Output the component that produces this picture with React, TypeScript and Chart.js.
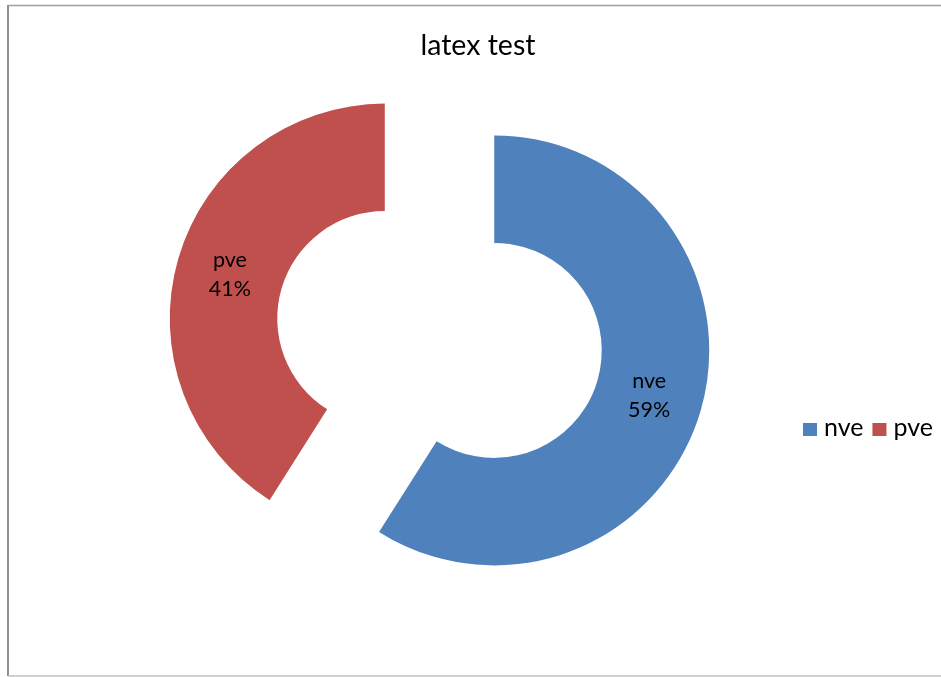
import React, { useEffect, useRef } from 'react';
import { Chart, registerables } from 'chart.js';

Chart.register(...registerables);

const categories = ['nve', 'pve'];
const values = [59, 41];
const colors = ['#4F81BD', '#C0504D'];
const chartTitle = 'latex test';
const explodeDistance = 57;

const FONT = 'Lato, "Open Sans", sans-serif';

const explodePlugin = {
  id: 'explode',
  afterDatasetsUpdate(chart: any) {
    const meta = chart.getDatasetMeta(0);
    meta.data.forEach((arc: any) => {
      const mid = (arc.startAngle + arc.endAngle) / 2;
      arc.x = arc.x + Math.cos(mid) * explodeDistance;
      arc.y = arc.y + Math.sin(mid) * explodeDistance;
    });
  },
};

const overlayPlugin = {
  id: 'overlay',
  afterDraw(chart: any) {
    const ctx = chart.ctx as CanvasRenderingContext2D;
    ctx.save();
    // frame
    ctx.strokeStyle = '#8f8f8f';
    ctx.lineWidth = 2;
    ctx.beginPath();
    ctx.moveTo(8, 5);
    ctx.lineTo(8, 676);
    ctx.stroke();
    ctx.lineWidth = 1.5;
    ctx.strokeStyle = '#a0a0a0';
    ctx.beginPath();
    ctx.moveTo(8, 5.5);
    ctx.lineTo(941, 5.5);
    ctx.stroke();
    ctx.strokeStyle = '#c0c0c0';
    ctx.beginPath();
    ctx.moveTo(8, 676);
    ctx.lineTo(941, 676);
    ctx.stroke();

    // title
    ctx.fillStyle = '#000';
    ctx.textAlign = 'center';
    ctx.textBaseline = 'alphabetic';
    ctx.font = `28.5px ${FONT}`;
    ctx.fillText(chartTitle, 478, 55);

    // data labels
    const meta = chart.getDatasetMeta(0);
    const ds = chart.data.datasets[0].data as number[];
    const total = ds.reduce((a, b) => a + b, 0);
    ctx.font = `21.5px ${FONT}`;
    meta.data.forEach((arc: any, i: number) => {
      const mid = (arc.startAngle + arc.endAngle) / 2;
      const r = (arc.innerRadius + arc.outerRadius) / 2;
      const cx = arc.x + Math.cos(mid) * r;
      const cy = arc.y + Math.sin(mid) * r;
      const pct = Math.round((ds[i] / total) * 100) + '%';
      ctx.fillText(String(chart.data.labels[i]), cx, cy - 7);
      ctx.fillText(pct, cx, cy + 22);
    });

    // legend
    ctx.textAlign = 'left';
    ctx.font = `25px ${FONT}`;
    let lx = 803;
    (chart.data.labels as string[]).forEach((lab, i) => {
      ctx.fillStyle = colors[i];
      ctx.fillRect(lx, 423, 14, 13);
      lx += 14 + 7;
      ctx.fillStyle = '#000';
      ctx.fillText(lab, lx, 436);
      lx += ctx.measureText(lab).width + 9;
    });
    ctx.restore();
  },
};

export default function App() {
  const ref = useRef<HTMLCanvasElement>(null);
  useEffect(() => {
    if (!ref.current) return;
    const chart = new Chart(ref.current, {
      type: 'doughnut',
      data: {
        labels: categories,
        datasets: [
          {
            data: values,
            backgroundColor: colors,
            borderWidth: 0,
          },
        ],
      },
      options: {
        responsive: false,
        animation: false,
        radius: 215,
        cutout: '50%',
        layout: { padding: { left: 20, right: 82, top: 20, bottom: 28 } },
        plugins: {
          legend: { display: false },
          title: { display: false },
          tooltip: { enabled: false },
        },
        events: [],
      } as any,
      plugins: [explodePlugin, overlayPlugin],
    });
    return () => chart.destroy();
  }, []);
  return (
    <div style={{ position: 'fixed', left: 0, top: 0, width: 941, height: 677, background: '#fff' }}>
      <canvas ref={ref} width={941} height={677} style={{ display: 'block' }} />
    </div>
  );
}
